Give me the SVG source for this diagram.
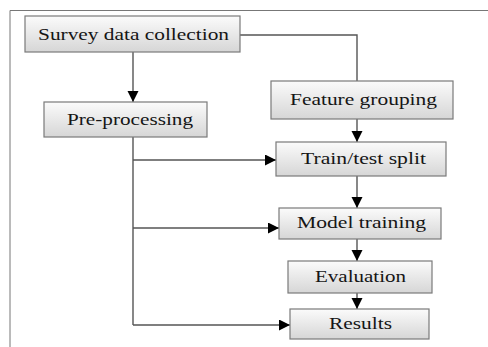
<svg xmlns="http://www.w3.org/2000/svg" width="488" height="347" viewBox="0 0 488 347">
<style>
.box{stroke:#7a7a7a;stroke-width:1.2;fill:url(#g)}
.lbl{font-family:"Liberation Serif","Times New Roman",serif;font-size:17.5px;fill:#151515;text-anchor:middle}
.con{stroke:#555;stroke-width:1.4;fill:none}
.arr{stroke:#555;stroke-width:1.4;fill:none;marker-end:url(#ah)}
</style>
<defs>
<linearGradient id="g" x1="0" y1="0" x2="0" y2="1">
<stop offset="0" stop-color="#fbfbfb"/>
<stop offset="1" stop-color="#d6d6d6"/>
</linearGradient>
<marker id="ah" markerUnits="userSpaceOnUse" markerWidth="12" markerHeight="12" refX="11" refY="5.5" orient="auto">
<path d="M0,0 L11,5.5 L0,11 z" fill="#000"/>
</marker>
</defs>
<rect width="488" height="347" fill="#fff"/>
<path d="M10,347 V10.5 H488" stroke="#777" stroke-width="1" fill="none"/>
<g id="connectors">
<path class="arr" d="M133,52 V102"/>
<path class="con" d="M240,35 H357 V81"/>
<path class="arr" d="M357,119 V142"/>
<path class="con" d="M133,137 V325"/>
<path class="arr" d="M133,160 H276"/>
<path class="arr" d="M133,228 H279"/>
<path class="arr" d="M133,325 H290"/>
<path class="arr" d="M357,176 V208"/>
<path class="arr" d="M357,239 V261"/>
<path class="arr" d="M357,293 V309"/>
</g>
<g id="survey"><rect class="box" x="25" y="16" width="215" height="36"/><text class="lbl" x="133.5" y="40" textLength="191" lengthAdjust="spacingAndGlyphs">Survey data collection</text></g>
<g id="preprocessing"><rect class="box" x="44" y="102" width="163" height="35"/><text class="lbl" x="130" y="125" textLength="126" lengthAdjust="spacingAndGlyphs">Pre-processing</text></g>
<g id="feature"><rect class="box" x="271" y="81" width="182" height="38"/><text class="lbl" x="363.5" y="105" textLength="147" lengthAdjust="spacingAndGlyphs">Feature grouping</text></g>
<g id="split"><rect class="box" x="276" y="142" width="170" height="34"/><text class="lbl" x="363.5" y="164" textLength="125" lengthAdjust="spacingAndGlyphs">Train/test split</text></g>
<g id="training"><rect class="box" x="279" y="208" width="162" height="31"/><text class="lbl" x="361.5" y="228" textLength="129" lengthAdjust="spacingAndGlyphs">Model training</text></g>
<g id="evaluation"><rect class="box" x="288" y="261" width="144" height="32"/><text class="lbl" x="360.5" y="282" textLength="91" lengthAdjust="spacingAndGlyphs">Evaluation</text></g>
<g id="results"><rect class="box" x="290" y="309" width="139" height="30"/><text class="lbl" x="360.5" y="329" textLength="63" lengthAdjust="spacingAndGlyphs">Results</text></g>
</svg>
